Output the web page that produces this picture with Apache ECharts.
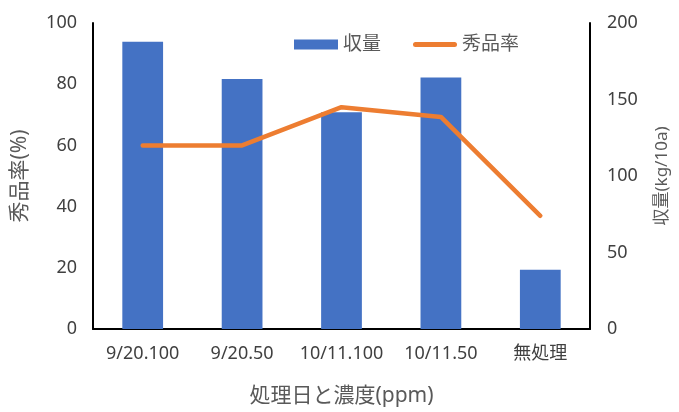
<!DOCTYPE html>
<html>
<head>
<meta charset="utf-8">
<script src="https://cdn.jsdelivr.net/npm/echarts@6/dist/echarts.min.js"></script>
<style>
html,body{margin:0;padding:0;background:#fff;}
#main{width:679px;height:412px;}
</style>
</head>
<body>
<div id="main"></div>
<script>
const categories = ['9/20.100', '9/20.50', '10/11.100', '10/11.50', '無処理'];
const yieldValues = [187.7, 163.4, 141.6, 164.3, 38.8];
const rateValues = [60, 60, 72.5, 69.3, 37];
const leftTicks = { min: 0, max: 100, interval: 20 };
const rightTicks = { min: 0, max: 200, interval: 50 };

const FONT = '"Noto Sans", "Noto Sans CJK JP", sans-serif';
const chart = echarts.init(document.getElementById('main'));
chart.setOption({
  animation: false,
  textStyle: { fontFamily: FONT },
  grid: { left: 93, right: 87, top: 23, bottom: 81 },
  legend: {
    left: 289, top: 30,
    itemWidth: 44, itemHeight: 10, itemGap: 32,
    textStyle: { fontSize: 19, color: '#595959', fontFamily: FONT },
    data: [
      { name: '収量', icon: 'rect' },
      { name: '秀品率', icon: 'path://M2.5,0 L41.5,0 A2.5,2.5 0 0 1 41.5,5 L2.5,5 A2.5,2.5 0 0 1 2.5,0 Z' }
    ]
  },
  xAxis: {
    type: 'category',
    data: categories,
    name: '処理日と濃度(ppm)',
    nameLocation: 'middle',
    nameGap: 57,
    nameTextStyle: { fontSize: 21, color: '#595959', verticalAlign: 'top' },
    axisLine: { show: true, lineStyle: { color: '#000', width: 2 } },
    axisTick: { show: false },
    axisLabel: { fontSize: 18, color: '#404040', margin: 16, interval: 0 }
  },
  yAxis: [
    {
      type: 'value',
      min: leftTicks.min, max: leftTicks.max, interval: leftTicks.interval,
      name: '秀品率(%)',
      nameLocation: 'middle',
      nameGap: 62,
      nameTextStyle: { fontSize: 21, color: '#595959' },
      axisLine: { show: true, lineStyle: { color: '#000', width: 2 } },
      axisTick: { show: false },
      splitLine: { show: false },
      axisLabel: { fontSize: 18, color: '#404040', margin: 16 }
    },
    {
      type: 'value',
      min: rightTicks.min, max: rightTicks.max, interval: rightTicks.interval,
      name: '収量(kg/10a)',
      nameLocation: 'middle',
      nameGap: 64,
      nameTextStyle: { fontSize: 17, color: '#595959' },
      axisLine: { show: true, lineStyle: { color: '#000', width: 2 } },
      axisTick: { show: false },
      splitLine: { show: false },
      axisLabel: { fontSize: 18, color: '#404040', margin: 17 }
    }
  ],
  series: [
    {
      name: '収量',
      type: 'bar',
      yAxisIndex: 1,
      data: yieldValues,
      barWidth: '41%',
      itemStyle: { color: '#4472C4' }
    },
    {
      name: '秀品率',
      type: 'line',
      yAxisIndex: 0,
      data: rateValues,
      symbol: 'none',
      lineStyle: { color: '#ED7D31', width: 4.5, cap: 'round', join: 'round' },
      itemStyle: { color: '#ED7D31' }
    }
  ]
});
</script>
</body>
</html>
